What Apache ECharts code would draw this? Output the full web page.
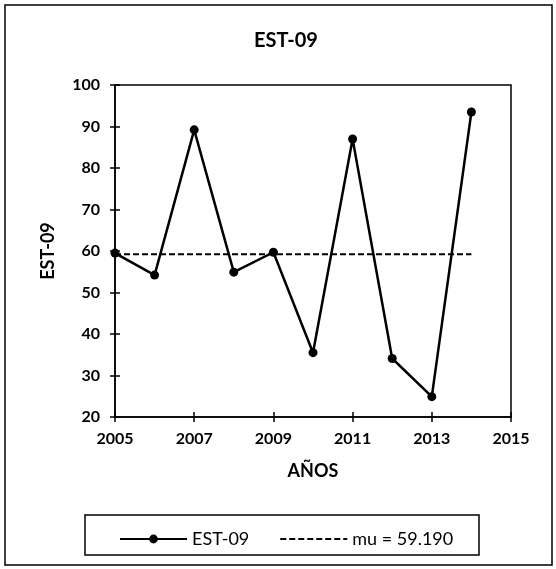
<!DOCTYPE html>
<html>
<head>
<meta charset="utf-8">
<script src="https://cdn.jsdelivr.net/npm/echarts@6/dist/echarts.min.js"></script>
<style>
  html, body { margin: 0; padding: 0; background: #fff; }
  #chart { width: 556px; height: 569px; }
</style>
</head>
<body>
<div id="chart"></div>
<script>
// Annual values for station EST-09
const years = [2005, 2006, 2007, 2008, 2009, 2010, 2011, 2012, 2013, 2014];
const values = [59.5, 54.2, 89.2, 54.9, 59.7, 35.5, 87.0, 34.1, 24.9, 93.5];
// Mean level drawn as a dashed reference line
const MU = 59.19;
const muYears = [2005, 2014];
// Axis ranges: [min, max, interval]
const xRange = [2005, 2015, 2];
const yRange = [20, 100, 10];

const FONT = 'Lato';
const MU_NAME = 'mu = ' + MU.toFixed(3);
const chart = echarts.init(document.getElementById('chart'), null, { renderer: 'canvas' });

const tickStyle = { color: '#000', width: 1.5 };
const baseX = { type: 'value', min: xRange[0], max: xRange[1], interval: xRange[2], splitLine: { show: false } };
const baseY = { type: 'value', min: yRange[0], max: yRange[1], interval: yRange[2], splitLine: { show: false } };

chart.setOption({
  animation: false,
  backgroundColor: '#fff',
  textStyle: { fontFamily: FONT, color: '#000' },
  title: {
    text: 'EST-09', left: 281, top: 26, textAlign: 'center',
    textStyle: { fontFamily: FONT, fontWeight: 'bold', fontSize: 20, color: '#000' }
  },
  grid: {
    left: 115, right: 45, top: 85, bottom: 152,
    show: true, borderColor: '#000', borderWidth: 1.5, backgroundColor: 'transparent'
  },
  xAxis: [
    Object.assign({}, baseX, {
      position: 'bottom',
      name: 'AÑOS', nameLocation: 'middle', nameGap: 45,
      nameTextStyle: { fontFamily: FONT, fontWeight: 'bold', fontSize: 18, color: '#000' },
      axisLine: { show: true, lineStyle: tickStyle },
      axisTick: { show: true, inside: false, length: 5, lineStyle: tickStyle },
      axisLabel: { fontFamily: FONT, fontWeight: 'bold', fontSize: 16, color: '#000', margin: 14,
                   formatter: v => String(v) }
    }),
    // inner half of the crossing tick marks
    Object.assign({}, baseX, {
      position: 'bottom',
      axisLine: { show: false },
      axisTick: { show: true, inside: true, length: 5, lineStyle: tickStyle },
      axisLabel: { show: false }
    })
  ],
  yAxis: [
    Object.assign({}, baseY, {
      position: 'left',
      name: 'EST-09', nameLocation: 'middle', nameGap: 58,
      nameTextStyle: { fontFamily: FONT, fontWeight: 'bold', fontSize: 18, color: '#000' },
      axisLine: { show: true, lineStyle: tickStyle },
      axisTick: { show: true, inside: false, length: 5, lineStyle: tickStyle },
      axisLabel: { fontFamily: FONT, fontWeight: 'bold', fontSize: 16, color: '#000', margin: 15 }
    }),
    Object.assign({}, baseY, {
      position: 'left',
      axisLine: { show: false },
      axisTick: { show: true, inside: true, length: 5, lineStyle: tickStyle },
      axisLabel: { show: false }
    })
  ],
  legend: {
    left: 114, top: 525,
    itemWidth: 67, itemHeight: 11, itemGap: 30,
    textStyle: { fontFamily: FONT, fontSize: 18, color: '#000' },
    data: [
      { name: 'EST-09' },
      { name: MU_NAME, itemStyle: { opacity: 0 } }
    ]
  },
  graphic: [
    // chart frame
    { type: 'rect', shape: { x: 5, y: 5, width: 547, height: 560 },
      style: { fill: 'none', stroke: '#000', lineWidth: 1.5 }, silent: true, z: -1 },
    // legend frame
    { type: 'rect', shape: { x: 85, y: 515, width: 394, height: 40 },
      style: { fill: 'none', stroke: '#000', lineWidth: 1.5 }, silent: true }
  ],
  series: [
    {
      name: MU_NAME,
      type: 'line',
      xAxisIndex: 0, yAxisIndex: 0,
      data: muYears.map(y => [y, MU]),
      showSymbol: false,
      lineStyle: { color: '#000', width: 2, type: [6, 3] },
      itemStyle: { color: '#000' },
      z: 2
    },
    {
      name: 'EST-09',
      type: 'line',
      xAxisIndex: 0, yAxisIndex: 0,
      data: years.map((y, i) => [y, values[i]]),
      symbol: 'circle', symbolSize: 9,
      lineStyle: { color: '#000', width: 2.5 },
      itemStyle: { color: '#000' },
      z: 3
    }
  ]
});
</script>
</body>
</html>
